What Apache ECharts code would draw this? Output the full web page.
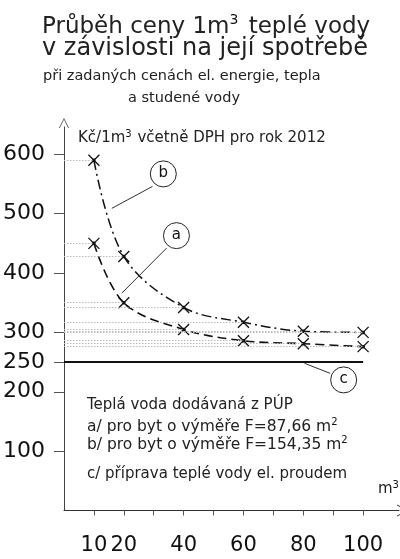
<!DOCTYPE html>
<html><head><meta charset="utf-8">
<script src="https://cdn.jsdelivr.net/npm/echarts@6/dist/echarts.min.js"></script>
<style>html,body{margin:0;padding:0;background:#fff}#c{width:400px;height:559px}</style>
</head><body><div id="c"></div>
<script>
const xValues = [10, 20, 40, 60, 80, 100];
const seriesA = [450, 350, 305, 286, 281, 276];
const seriesB = [590, 428, 342, 317, 302, 300];
const cValue = 250;
const cRange = [0, 100];
const yTicks = [100, 200, 250, 300, 400, 500, 600];
const xTicks = [10, 20, 40, 60, 80, 100];
const xMinorTicks = [10, 20, 30, 40, 50, 60, 70, 80, 90, 100];

const FONT = '"DejaVu Sans", sans-serif';
const markerPath = 'path://M0,0 L10,10 M10,0 L0,10 M4,4 L6,4 L6,6 L4,6 Z';
const arrowPath = 'path://M0,10 L5,0 L10,10 L9.2,10 L5,1.6 L0.8,10 Z';

function pairs(xs, ys) { return xs.map((x, i) => [x, ys[i]]); }
function guides(xs, ys) {
  return xs.map((x, i) => [{ coord: [0, ys[i]] }, { coord: [x, ys[i]] }]);
}
const guideStyle = { color: '#bbb', type: [1.5, 1.5], width: 1 };
const supSmall = { s: { fontSize: 10, verticalAlign: 'top', padding: [0, 1, 9, 0] } };
function txt(text, left, top, size, rich) {
  return { text, left, top, textStyle: { fontFamily: FONT, fontWeight: 'normal', fontSize: size, color: '#222', rich: rich || {} } };
}

const chart = echarts.init(document.getElementById('c'), null, { renderer: 'canvas' });
chart.setOption({
  animation: false,
  backgroundColor: '#fff',
  textStyle: { fontFamily: FONT, color: '#111' },
  title: [
    txt('Průběh ceny 1m{s|3} teplé vody', 37, 8, 23,
      { s: { fontSize: 14, verticalAlign: 'top', padding: [0, 3, 14, 0] } }),
    txt('v závislosti na její spotřebě', 37, 32, 24),
    txt('při zadaných cenách el. energie, tepla', 38, 64, 14.5),
    txt('a studené vody', 123, 86, 14.5),
    txt('Kč/1m{s|3} včetně DPH pro rok 2012', 73, 124, 15, supSmall),
    txt('Teplá voda dodávaná z PÚP', 82, 393, 15),
    txt('a/ pro byt o výměře F=87,66 m{s|2}', 82, 412, 15.5, supSmall),
    txt('b/ pro byt o výměře F=154,35 m{s|2}', 82, 430, 15.5, supSmall),
    txt('c/ příprava teplé vody el. proudem', 82, 462, 15),
    txt('m{s|3}', 373, 475, 15, supSmall)
  ],
  grid: { left: 63, top: 127, width: 336, height: 383.5, containLabel: false },
  xAxis: {
    type: 'value', min: 0, max: 112,
    axisLine: { show: true, lineStyle: { color: '#333', width: 1 }, symbol: ['none', arrowPath], symbolSize: [12, 12], symbolOffset: [0, 4] },
    axisTick: { show: true, customValues: xMinorTicks, length: 5, inside: false, lineStyle: { color: '#555' } },
    axisLabel: { customValues: xTicks, fontSize: 21, color: '#111', margin: 25, fontFamily: FONT },
    splitLine: { show: false }
  },
  yAxis: {
    type: 'value', min: 0, max: 646,
    axisLine: { show: true, lineStyle: { color: '#444', width: 1 }, symbol: ['none', arrowPath], symbolSize: [10, 12], symbolOffset: [0, 4] },
    axisTick: { show: true, customValues: yTicks, length: 10, lineStyle: { color: '#555' } },
    axisLabel: { customValues: yTicks, fontSize: 22, color: '#111', margin: 19, fontFamily: FONT },
    splitLine: { show: false }
  },
  series: [
    {
      name: 'a', type: 'line', data: pairs(xValues, seriesA), smooth: 0.35,
      symbol: markerPath, symbolSize: 11,
      itemStyle: { color: '#111', borderColor: '#111', borderWidth: 1.3 },
      lineStyle: { color: '#111', width: 1.6, type: [9, 5] },
      markLine: { silent: true, symbol: 'none', lineStyle: guideStyle, label: { show: false }, data: guides(xValues, seriesA) },
      z: 3
    },
    {
      name: 'b', type: 'line', data: pairs(xValues, seriesB), smooth: 0.35,
      symbol: markerPath, symbolSize: 11,
      itemStyle: { color: '#111', borderColor: '#111', borderWidth: 1.3 },
      lineStyle: { color: '#111', width: 1.5, type: [10, 4, 2, 4] },
      markLine: { silent: true, symbol: 'none', lineStyle: guideStyle, label: { show: false }, data: guides(xValues, seriesB) },
      z: 3
    },
    {
      name: 'c', type: 'line', data: [[cRange[0], cValue], [cRange[1], cValue]],
      symbol: 'none', lineStyle: { color: '#111', width: 2 }, z: 3
    },
    {
      name: 'annotations', type: 'scatter', data: [], silent: true,
      markPoint: {
        symbol: 'circle', symbolSize: 26,
        itemStyle: { color: '#fff', borderColor: '#222', borderWidth: 1 },
        label: { show: true, color: '#111', fontSize: 15, fontFamily: FONT, formatter: p => p.name, offset: [0, -1] },
        data: [
          { name: 'b', coord: [33.2, 567] },
          { name: 'a', coord: [37.6, 463] },
          { name: 'c', coord: [93.5, 220] }
        ]
      },
      markLine: {
        silent: true, symbol: 'none', lineStyle: { color: '#333', width: 1, type: 'solid' }, label: { show: false },
        data: [
          [{ coord: [29.6, 546] }, { coord: [16, 509] }],
          [{ coord: [34.3, 442] }, { coord: [19.3, 366] }],
          [{ coord: [80.4, 248] }, { coord: [89, 231] }]
        ]
      }
    }
  ]
});
</script></body></html>
